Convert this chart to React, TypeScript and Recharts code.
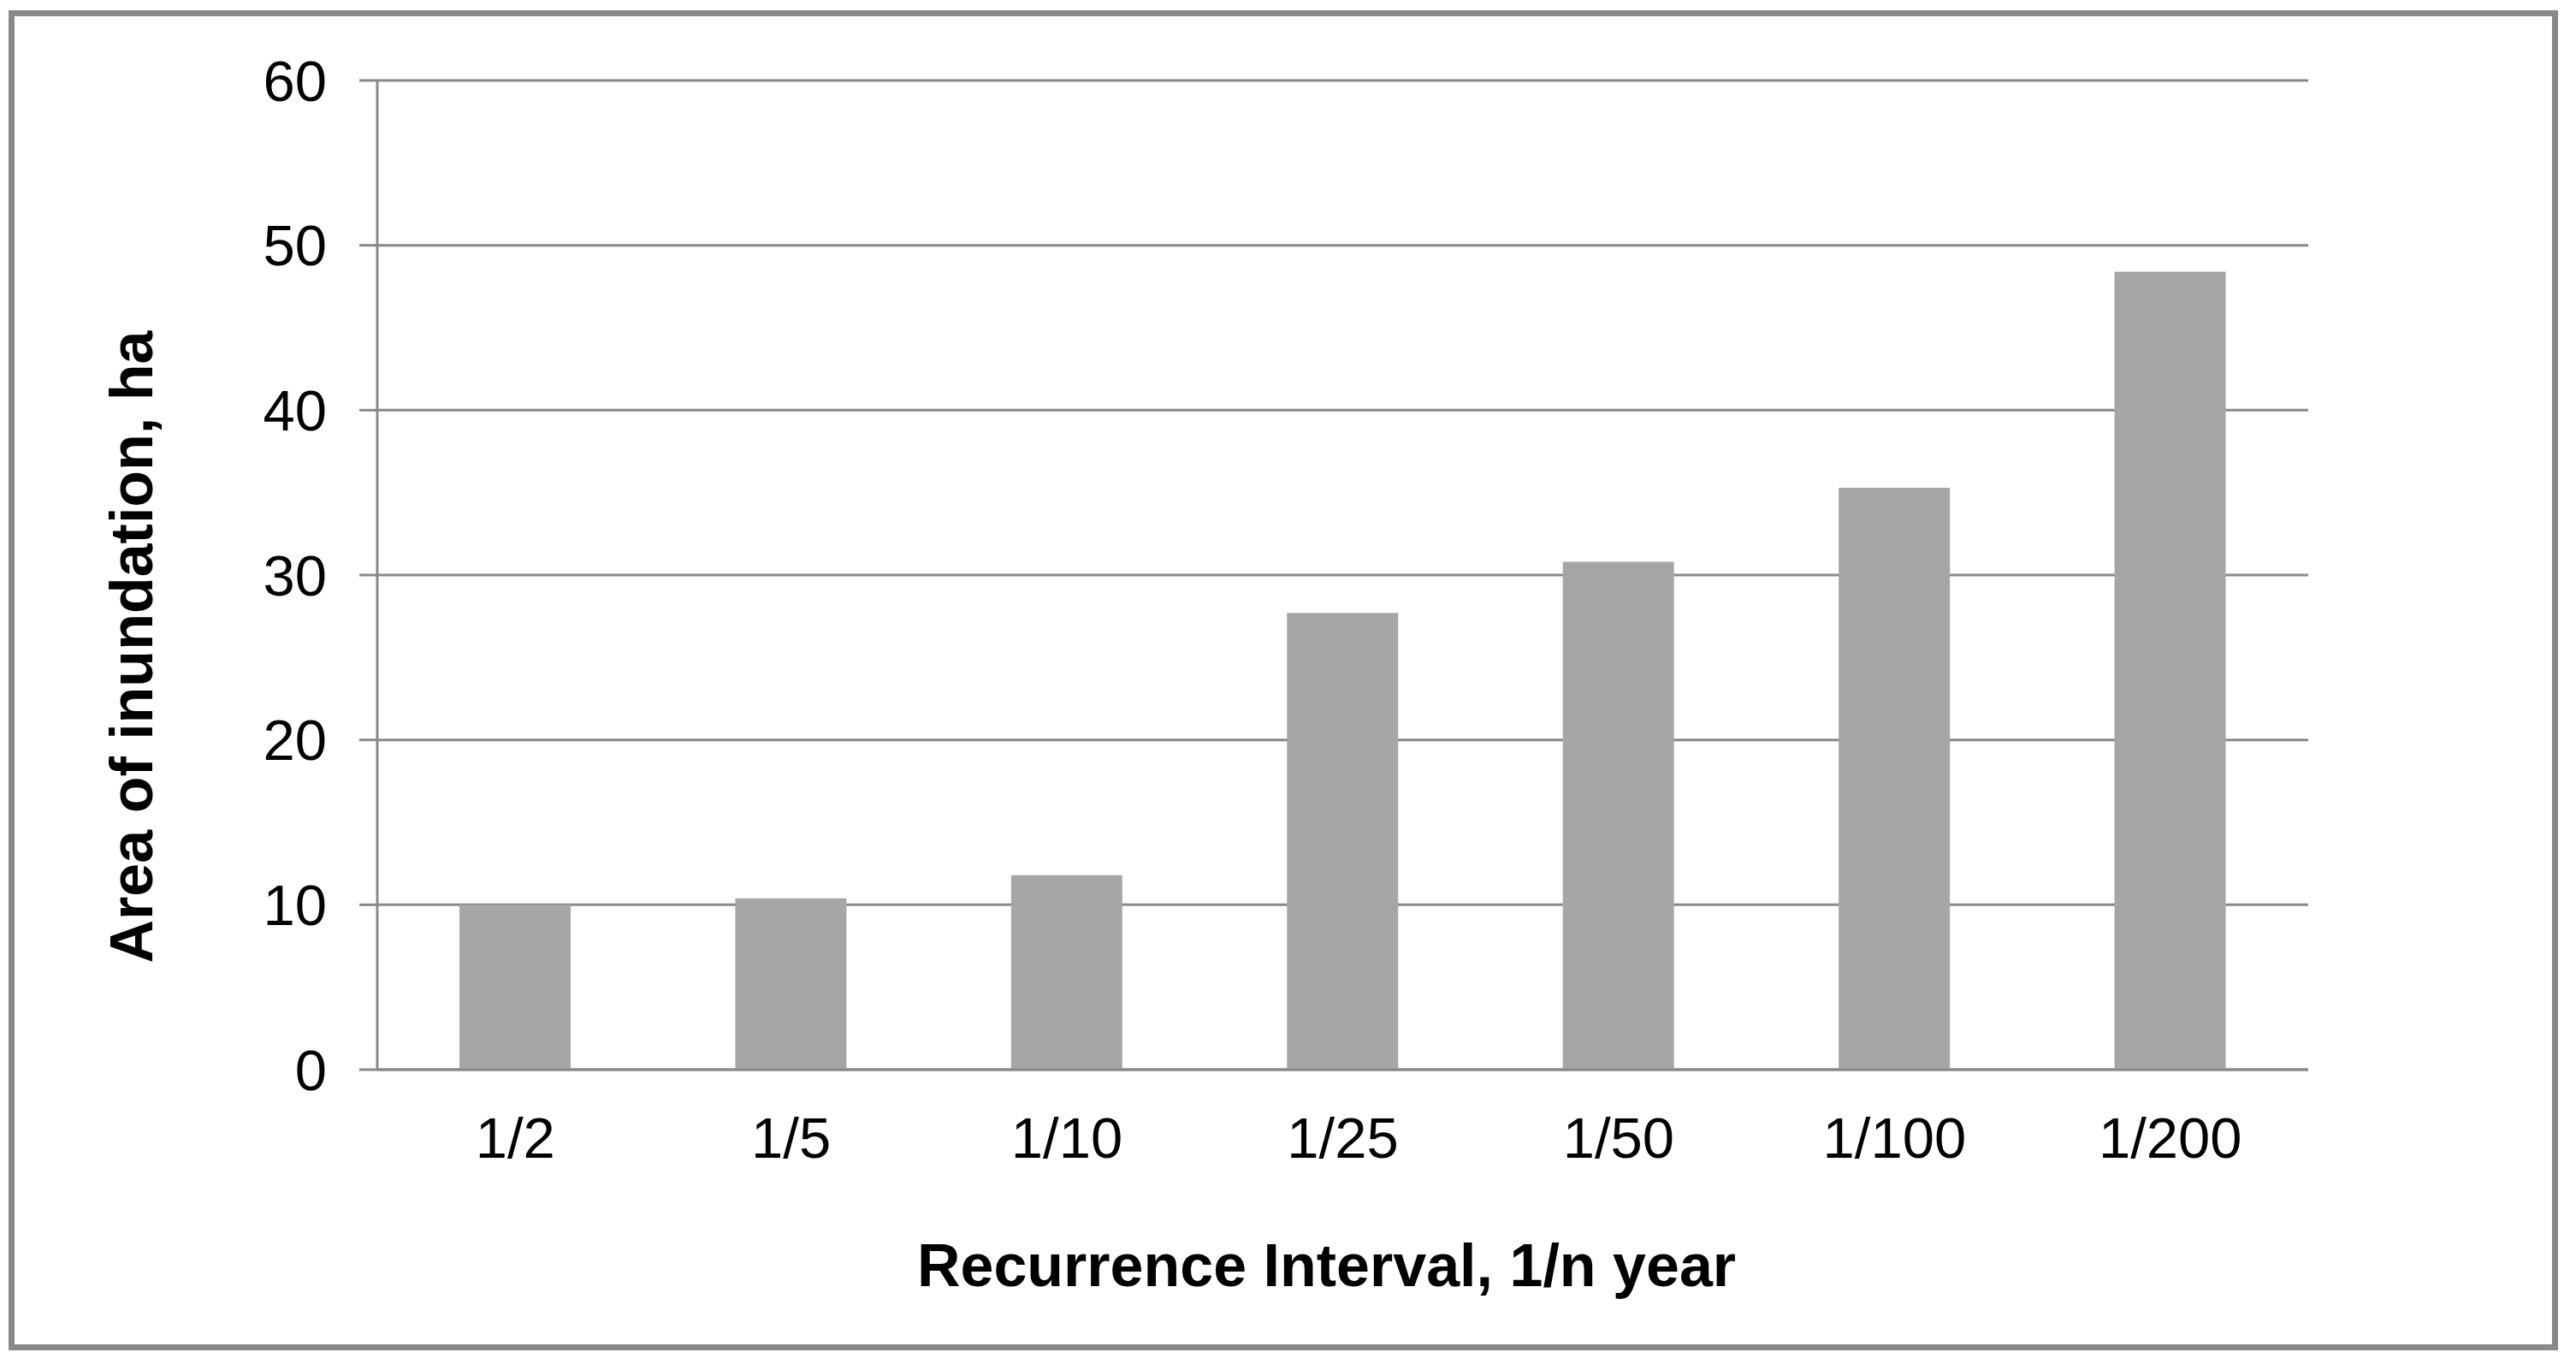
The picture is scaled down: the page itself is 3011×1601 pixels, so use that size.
import { Bar, BarChart, CartesianGrid, Label, XAxis, YAxis } from "recharts";

const intervals = ["1/2", "1/5", "1/10", "1/25", "1/50", "1/100", "1/200"];
const areaHa = [10.0, 10.4, 11.8, 27.7, 30.8, 35.3, 48.4];
const yTicks = [0, 10, 20, 30, 40, 50, 60];

const data = intervals.map((interval, i) => ({ interval, area: areaHa[i] }));

const FONT = "'Liberation Sans', Arial, sans-serif";
const GRID = "#898989";

function YTitle(props: any) {
  const vb = props.viewBox || { x: 0, y: 0, width: 0, height: 0 };
  const x = vb.x + 178;
  const y = vb.y + vb.height / 2 + 84;
  return (
    <text
      x={x}
      y={y}
      transform={`rotate(-90, ${x}, ${y})`}
      textAnchor="middle"
      fontFamily={FONT}
      fontWeight="bold"
      fontSize={70}
      fill="#000"
    >
      Area of inundation, ha
    </text>
  );
}

export default function App() {
  return (
    <div
      style={{
        position: "absolute",
        left: 0,
        top: 0,
        width: 3011,
        height: 1601,
        background: "#fff",
      }}
    >
      <div
        style={{
          position: "absolute",
          left: 10,
          top: 12,
          width: 2980,
          height: 1566,
          boxSizing: "border-box",
          border: `7px solid ${GRID}`,
        }}
      />
      <div style={{ position: "absolute", left: 0, top: 0 }}>
        <BarChart
          width={3011}
          height={1601}
          data={data}
          margin={{ top: 94, right: 313, left: 0, bottom: 98 }}
        >
          <CartesianGrid vertical={false} stroke={GRID} strokeWidth={3} />
          <XAxis
            dataKey="interval"
            height={253}
            tickLine={false}
            tickSize={0}
            tickMargin={55}
            axisLine={{ stroke: GRID, strokeWidth: 3 }}
            tick={{ fontFamily: FONT, fontSize: 67, fill: "#000" }}
            interval={0}
          >
            <Label
              value="Recurrence Interval, 1/n year"
              position="insideBottom"
              offset={0}
              dx={-19}
              style={{ fontFamily: FONT, fontWeight: "bold", fontSize: 70, fill: "#000" }}
            />
          </XAxis>
          <YAxis
            width={441}
            domain={[0, 60]}
            ticks={yTicks}
            interval={0}
            tickSize={21}
            tickMargin={38}
            tickLine={{ stroke: GRID, strokeWidth: 3 }}
            axisLine={{ stroke: GRID, strokeWidth: 3 }}
            tick={{ fontFamily: FONT, fontSize: 67, fill: "#000" }}
          >
            <Label content={<YTitle />} />
          </YAxis>
          <Bar dataKey="area" fill="#a6a6a6" barSize={130} isAnimationActive={false} />
        </BarChart>
      </div>
    </div>
  );
}
